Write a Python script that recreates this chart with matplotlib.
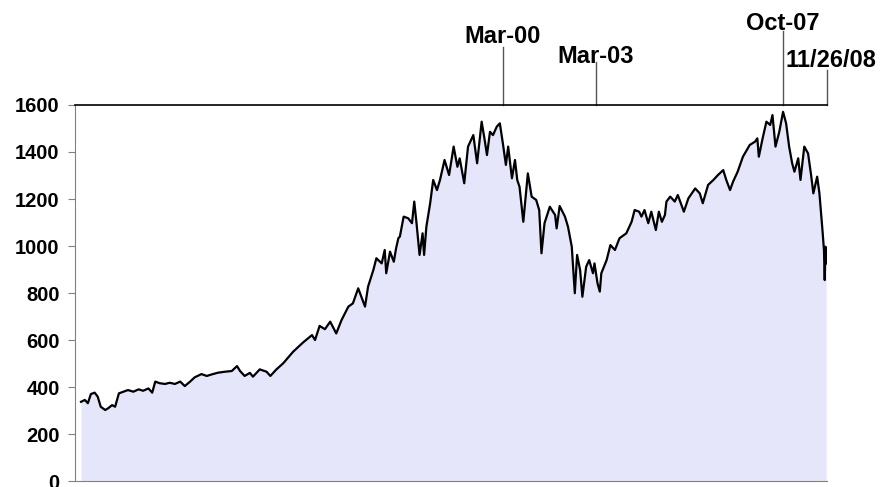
import matplotlib.pyplot as plt

plt.rcParams['font.family'] = ['Liberation Sans', 'DejaVu Sans']

# S&P 500 level (x = weeks since start of series)
weeks = [
    0, 5, 9, 13, 18, 22, 26, 32, 36, 41, 45, 50, 56, 62, 69, 76, 82, 89, 94, 98,
    104, 111, 117, 124, 131, 137, 144, 150, 159, 166, 173, 181, 190, 199, 206, 210,
    216, 223, 227, 236, 245, 250, 258, 267, 280, 293, 305, 309, 315, 322, 329, 337,
    344, 353, 359, 366, 375, 379, 386, 390, 397, 401, 403, 408, 413, 416, 419, 421,
    426, 432, 437, 440, 443, 447, 451, 453, 456, 461, 465, 470, 474, 480, 486, 492,
    497, 500, 506, 511, 518, 523, 529, 533, 536, 540, 544, 549, 553, 557, 561, 564,
    569, 573, 576, 579, 584, 590, 595, 601, 605, 608, 612, 619, 626, 628, 632, 639,
    643, 648, 652, 655, 659, 662, 667, 671, 676, 678, 682, 685, 687, 694, 699, 705,
    711, 720, 727, 731, 737, 740, 744, 749, 753, 759, 763, 767, 771, 773, 778, 784,
    788, 796, 802, 811, 817, 821, 828, 835, 841, 848, 852, 857, 861, 867, 874, 883,
    890, 893, 895, 900, 905, 910, 913, 917, 922, 927, 931, 935, 939, 942, 947, 950,
    955, 960, 964, 967, 972, 975, 979, 981, 982, 983, 984,
]
index = [
    337, 345, 331, 370, 376, 359, 316, 302, 310, 323, 316, 373, 380, 387, 380, 390,
    384, 394, 376, 423, 416, 413, 418, 413, 423, 404, 423, 441, 455, 447, 454, 461,
    465, 468, 489, 468, 447, 460, 444, 475, 465, 447, 475, 501, 550, 589, 621, 600,
    660, 646, 678, 628, 685, 742, 756, 820, 742, 827, 898, 948, 926, 983, 884, 976,
    933, 990, 1033, 1040, 1125, 1118, 1097, 1189, 1097, 962, 1054, 962, 1082, 1182,
    1281, 1238, 1281, 1366, 1302, 1423, 1337, 1373, 1267, 1423, 1472, 1352, 1529,
    1451, 1387, 1486, 1472, 1508, 1522, 1437, 1345, 1423, 1288, 1366, 1281, 1252,
    1103, 1309, 1210, 1196, 1153, 969, 1097, 1167, 1132, 1075, 1170, 1125, 1082,
    997, 799, 962, 898, 784, 912, 940, 884, 926, 841, 806, 884, 940, 1004, 983,
    1033, 1054, 1103, 1153, 1146, 1125, 1153, 1097, 1146, 1068, 1146, 1103, 1132,
    1189, 1210, 1189, 1217, 1146, 1203, 1245, 1224, 1182, 1260, 1281, 1302, 1323,
    1281, 1238, 1274, 1316, 1380, 1430, 1444, 1458, 1380, 1458, 1529, 1515, 1557,
    1423, 1486, 1571, 1522, 1423, 1352, 1316, 1373, 1281, 1423, 1394, 1302, 1224,
    1295, 1224, 1068, 983, 855, 997, 926,
]

# event markers above the chart
event_labels = ["Mar-00", "Mar-03", "Oct-07", "11/26/08"]
event_weeks = [557, 680, 927, 985]
line_tops = [1847, 1783, 1915, 1749]
label_y = [1862, 1779, 1921, 1762]

fig = plt.figure(figsize=(8.81, 4.87), dpi=100)
ax = fig.add_axes([0.0851, 0.0123, 0.8536, 0.7721])

ax.fill_between(weeks, index, 0, color='#e6e6fb', linewidth=0)
ax.plot(weeks, index, color='black', linewidth=1.6)

ax.set_xlim(-8, 985)
ax.set_ylim(0, 1600)
ax.set_yticks(range(0, 1601, 200))
ax.set_xticks([])
ax.tick_params(axis='y', direction='out', length=5, color='#808080',
               labelsize=14.5, pad=6)
for lab in ax.get_yticklabels():
    lab.set_fontweight('bold')

ax.spines['right'].set_visible(False)
ax.spines['left'].set_color('#808080')
ax.spines['bottom'].set_color('#808080')
ax.spines['top'].set_color('black')
ax.spines['top'].set_linewidth(1.2)

for i in range(len(event_labels)):
    ax.plot([event_weeks[i], event_weeks[i]], [1600, line_tops[i]],
            color='#555555', linewidth=1, clip_on=False)
    if event_labels[i] == "11/26/08":
        ax.text(event_weeks[i] - 55, label_y[i], event_labels[i], ha='left',
                va='baseline', fontsize=17, fontweight='bold', clip_on=False)
    else:
        ax.text(event_weeks[i], label_y[i], event_labels[i], ha='center',
                va='baseline', fontsize=17, fontweight='bold', clip_on=False)

plt.savefig("out.png", dpi=100)
